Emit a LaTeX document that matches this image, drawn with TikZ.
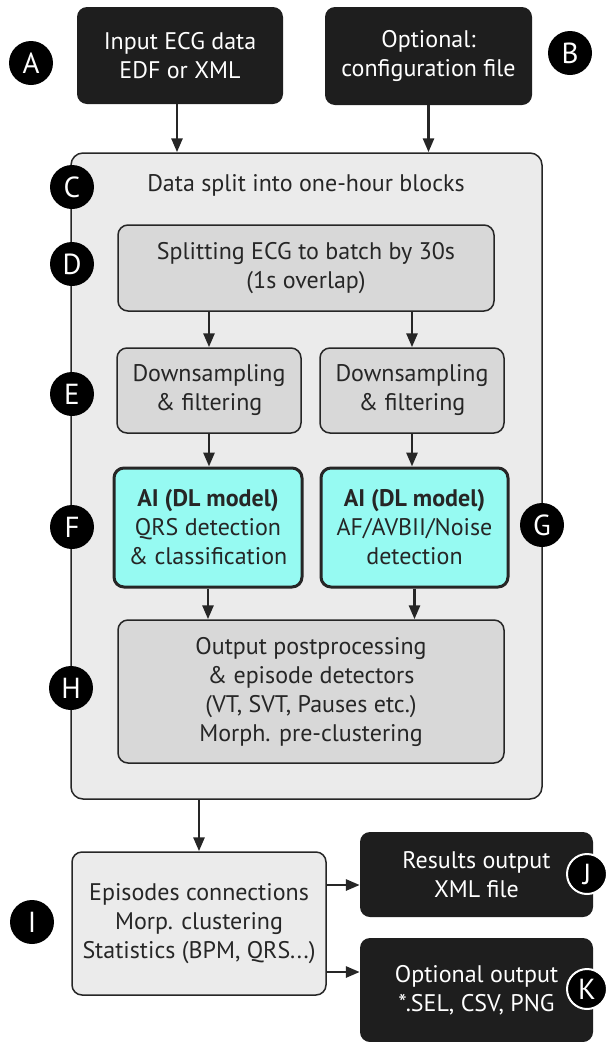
\documentclass[tikz,border=0pt]{standalone}
\usepackage{fontspec}
\setmainfont{PT Sans}
\usetikzlibrary{arrows.meta}
\definecolor{boxdark}{HTML}{1E1E1E}
\definecolor{outerfill}{HTML}{EBEBEB}
\definecolor{innerfill}{HTML}{D8D8D8}
\definecolor{aicyan}{HTML}{96FAF2}
\definecolor{edgegray}{HTML}{262626}
\providecommand{\boxfont}{\fontsize{24}{29}\selectfont}
\providecommand{\badgefont}{\fontsize{29}{29}\selectfont}
\tikzset{
  darkbox/.style={rectangle, rounded corners=10pt, fill=boxdark, text=white,
    align=center, inner sep=0pt, font=\boxfont},
  graybox/.style={rectangle, rounded corners=10pt, draw=edgegray, line width=1.5pt,
    fill=innerfill, text=edgegray, align=center, inner sep=0pt, font=\boxfont},
  aibox/.style={graybox, fill=aicyan, line width=3pt},
  badge/.style={circle, fill=black, text=white, minimum size=44pt, inner sep=0pt,
    font=\badgefont},
  edgebadge/.style={badge, draw=white, line width=2pt, minimum size=40pt},
  flow/.style={line width=2.8pt, draw=edgegray, -{Triangle[length=14pt,width=11pt]}}
}
\begin{document}
\begin{tikzpicture}[x=1pt,y=-1pt]
    \useasboundingbox (0,0) rectangle (613,1042);
    % inputs
    \node[darkbox, minimum width=206pt, minimum height=97pt] (inA) at (180,55.5)
        {Input ECG data\\EDF or XML};
    \node[darkbox, minimum width=207pt, minimum height=98pt] (inB) at (428.5,56)
        {Optional:\\configuration file};
    % one-hour block
    \node[graybox, fill=outerfill, rounded corners=12pt, minimum width=471pt,
        minimum height=646pt] (hourblk) at (306.5,476) {};
    \node[font=\boxfont, text=edgegray] (hourtxt) at (306,185) {Data split into one-hour blocks};
    \node[graybox, minimum width=376pt, minimum height=86pt] (batch) at (306,268)
        {Splitting ECG to batch by 30s\\(1s overlap)};
    \node[graybox, minimum width=184pt, minimum height=85pt] (downL) at (209,390.5)
        {Downsampling\\\& filtering};
    \node[graybox, minimum width=184pt, minimum height=85pt] (downR) at (412,390.5)
        {Downsampling\\\& filtering};
    \node[aibox, minimum width=188pt, minimum height=119pt] (aiL) at (208,527.5)
        {\textbf{AI (DL model)}\\QRS detection\\\& classification};
    \node[aibox, minimum width=187pt, minimum height=119pt] (aiR) at (414.5,527.5)
        {\textbf{AI (DL model)}\\AF/AVBII/Noise\\detection};
    \node[graybox, minimum width=386pt, minimum height=143pt] (post) at (311,691.5)
        {Output postprocessing\\\& episode detectors\\(VT, SVT, Pauses etc.)\\Morph. pre-clustering};
    % after the blocks
    \node[graybox, fill=outerfill, minimum width=254pt, minimum height=143pt] (epis) at (199,923.5)
        {Episodes connections\\Morp. clustering\\Statistics (BPM, QRS...)};
    \node[darkbox, minimum width=233pt, minimum height=85pt] (resJ) at (476.5,874.5)
        {Results output\\XML file};
    \node[darkbox, minimum width=233pt, minimum height=104pt] (optK) at (476.5,990)
        {Optional output\\*.SEL, CSV, PNG};
    % connectors
    \draw[flow] (inA.south -| 177,0) -- (177,0 |- hourblk.north);
    \draw[flow] (inB.south) -- (inB.south |- hourblk.north);
    \draw[flow] (batch.south -| downL) -- (downL.north);
    \draw[flow] (batch.south -| downR) -- (downR.north);
    \draw[flow] (downL.south) -- (downL.south |- aiL.north);
    \draw[flow] (downR.south) -- (downR.south |- aiR.north);
    \draw[flow] (aiL.south) -- (aiL.south |- post.north);
    \draw[flow] (aiR.south) -- (aiR.south |- post.north);
    \draw[flow] (hourblk.south -| epis) -- (epis.north);
    \draw[flow] ([yshift=38.5pt]epis.east) -- ([yshift=38.5pt]epis.east -| resJ.west);
    \draw[flow] ([yshift=-48.5pt]epis.east) -- ([yshift=-48.5pt]epis.east -| optK.west);
    % letters
    \node[badge] (bA) at (31,63) {A};
    \node[badge] (bB) at (570,53) {B};
    \node[badge] (bC) at (72,187) {C};
    \node[badge] (bD) at (72,264) {D};
    \node[badge] (bE) at (72,394) {E};
    \node[badge] (bF) at (72,527) {F};
    \node[badge] (bG) at (542,525) {G};
    \node[badge] (bH) at (71,688) {H};
    \node[badge] (bI) at (32,922) {I};
    \node[edgebadge] (bJ) at (587,874) {J};
    \node[edgebadge] (bK) at (587,989) {K};
\end{tikzpicture}
\end{document}
